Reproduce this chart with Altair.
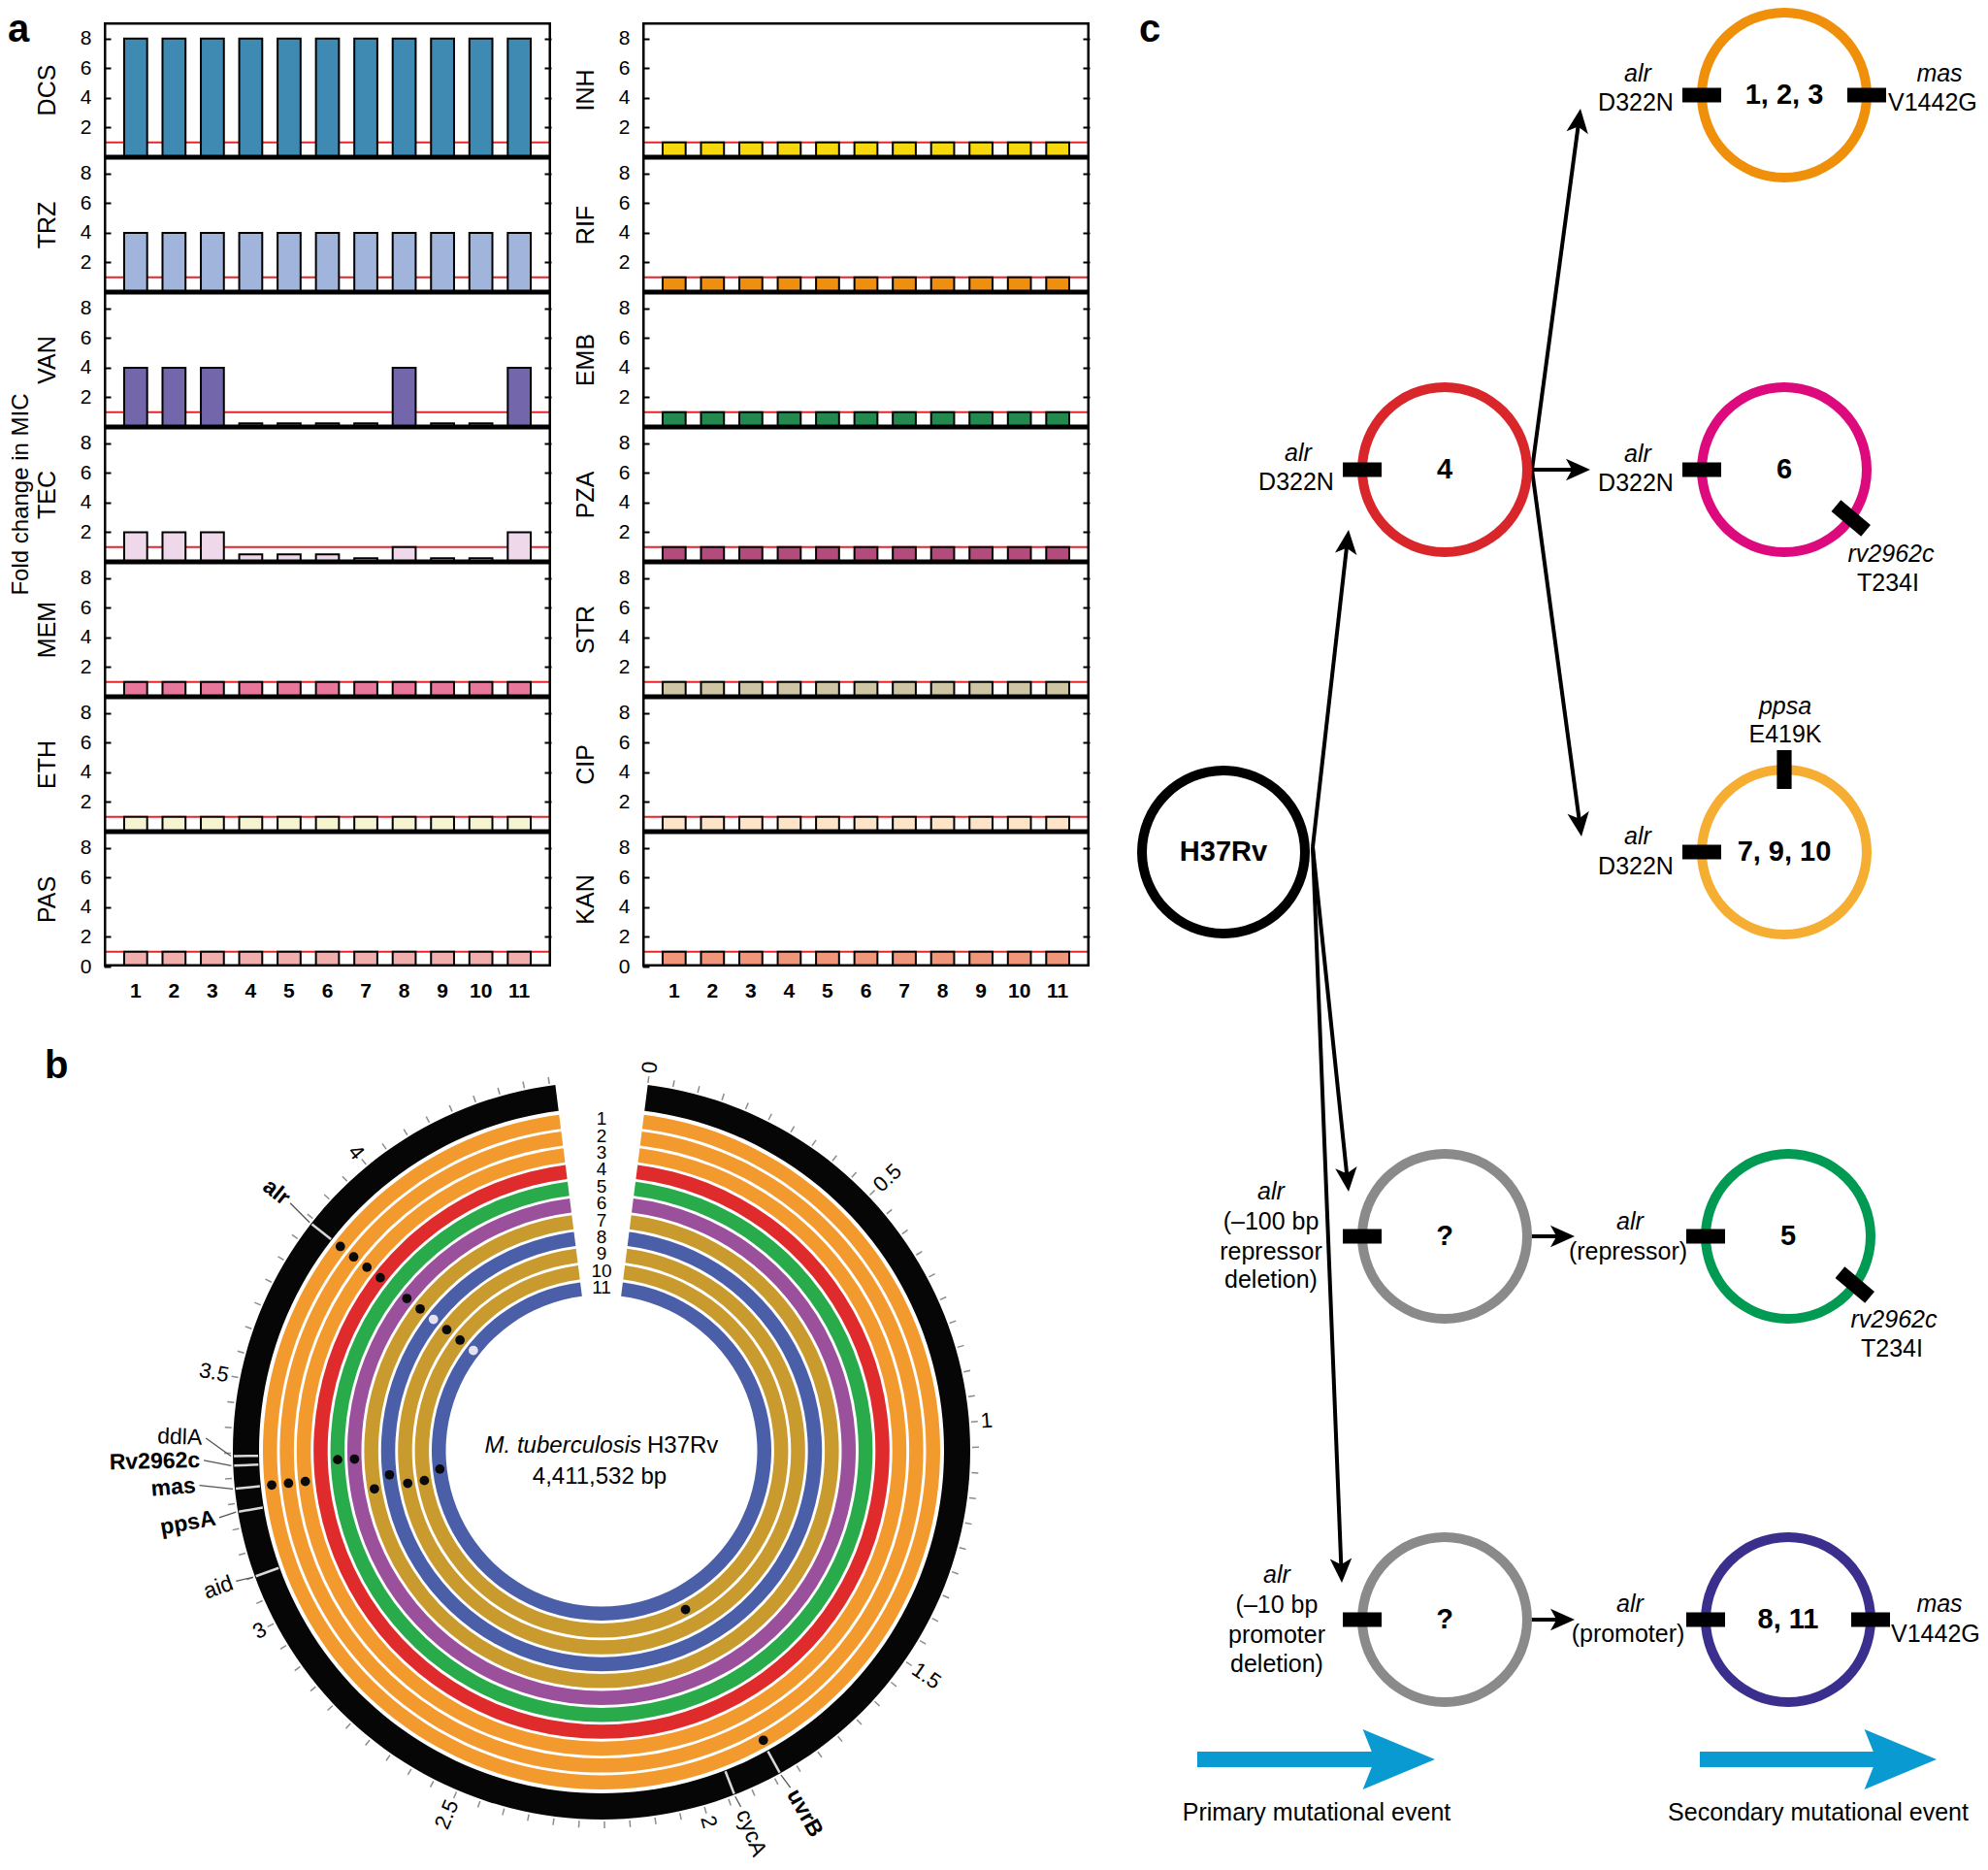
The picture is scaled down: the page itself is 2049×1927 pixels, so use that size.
import math
import altair as alt
import pandas as pd

FONT = "Liberation Sans"

# ====================== Panel a data ======================
strains = [1, 2, 3, 4, 5, 6, 7, 8, 9, 10, 11]
drugs_left = ["DCS", "TRZ", "VAN", "TEC", "MEM", "ETH", "PAS"]
drugs_right = ["INH", "RIF", "EMB", "PZA", "STR", "CIP", "KAN"]
fold_change = {
    "DCS": [8, 8, 8, 8, 8, 8, 8, 8, 8, 8, 8],
    "TRZ": [4, 4, 4, 4, 4, 4, 4, 4, 4, 4, 4],
    "VAN": [4, 4, 4, 0.25, 0.25, 0.25, 0.25, 4, 0.25, 0.25, 4],
    "TEC": [2, 2, 2, 0.5, 0.5, 0.5, 0.25, 1, 0.25, 0.25, 2],
    "MEM": [1, 1, 1, 1, 1, 1, 1, 1, 1, 1, 1],
    "ETH": [1, 1, 1, 1, 1, 1, 1, 1, 1, 1, 1],
    "PAS": [1, 1, 1, 1, 1, 1, 1, 1, 1, 1, 1],
    "INH": [1, 1, 1, 1, 1, 1, 1, 1, 1, 1, 1],
    "RIF": [1, 1, 1, 1, 1, 1, 1, 1, 1, 1, 1],
    "EMB": [1, 1, 1, 1, 1, 1, 1, 1, 1, 1, 1],
    "PZA": [1, 1, 1, 1, 1, 1, 1, 1, 1, 1, 1],
    "STR": [1, 1, 1, 1, 1, 1, 1, 1, 1, 1, 1],
    "CIP": [1, 1, 1, 1, 1, 1, 1, 1, 1, 1, 1],
    "KAN": [1, 1, 1, 1, 1, 1, 1, 1, 1, 1, 1],
}
drug_colors = {
    "DCS": "#3f8ab2", "TRZ": "#a1b5dc", "VAN": "#7466aa", "TEC": "#efd8ea",
    "MEM": "#e8789b", "ETH": "#f6f3cf", "PAS": "#f0aeac",
    "INH": "#f6d80f", "RIF": "#ee8f10", "EMB": "#24894e", "PZA": "#b34c7c",
    "STR": "#cdc5a4", "CIP": "#fde4c6", "KAN": "#f0977b",
}
reference_line = [1]
y_tick_values = [2, 4, 6, 8]
y_tick_values_bottom = [0, 2, 4, 6, 8]
panel_a_letter = ["a"]
panel_a_ytitle = ["Fold change in MIC"]

ROW_W, ROW_H = 461, 139
N_ROWS = 7
Y_MAX = 9.1
FRAME_W = 2.5


def row_chart(drug, bottom):
    df = pd.DataFrame({"strain": strains, "fold": fold_change[drug]})
    ysc = alt.Scale(domain=[0, Y_MAX], nice=False, zero=True)
    xsc = alt.Scale(paddingInner=0.4, paddingOuter=0.53)
    if bottom:
        xax = alt.Axis(labelFontSize=21, labelFontWeight="bold", labelPadding=14,
                       ticks=False, domain=False, title=None, labelAngle=0,
                       labelColor="black")
    else:
        xax = None
    left_axis = alt.Axis(orient="left",
                         values=y_tick_values_bottom if bottom else y_tick_values,
                         tickSize=7, offset=-7, tickWidth=2, tickColor="black",
                         domain=False, grid=False, labelFontSize=21, labelPadding=13,
                         labelColor="black", title=drug, titleFontSize=25,
                         titleFontWeight="normal", titlePadding=21, titleColor="black")
    right_axis = alt.Axis(orient="right", values=y_tick_values, tickSize=7, offset=-7,
                          tickWidth=2, tickColor="black", domain=False, grid=False,
                          labels=False, title=None)
    ref = alt.Chart(pd.DataFrame({"ref": reference_line})).mark_rule(
        color="#e3262c", strokeWidth=2).encode(
        y=alt.Y("ref:Q", scale=ysc, axis=right_axis))
    bars = alt.Chart(df).mark_bar(color=drug_colors[drug], stroke="black",
                                  strokeWidth=2, opacity=1, clip=True).encode(
        x=alt.X("strain:O", scale=xsc, axis=xax),
        y=alt.Y("fold:Q", scale=ysc, axis=left_axis))
    # plot frame: a clipped outline, so that adjacent rows share one border line
    frame = alt.Chart(pd.DataFrame({"f": [0]})).mark_rect(
        filled=False, color="black", strokeWidth=2 * FRAME_W, clip=True).encode(
        x=alt.value(0), x2=alt.value(ROW_W), y=alt.value(0), y2=alt.value(ROW_H))
    return alt.layer(ref, bars, frame).resolve_axis(y="independent").properties(
        width=ROW_W, height=ROW_H,
        view=alt.ViewBackground(strokeWidth=0, fill="white"))


# narrow strip on the left holding the panel letter and the shared y title
letter_a = alt.Chart(pd.DataFrame({"t": panel_a_letter})).mark_text(
    fontSize=40, fontWeight="bold", align="left", baseline="top", color="black").encode(
    text="t:N", x=alt.value(0), y=alt.value(-12))
ytitle_a = alt.Chart(pd.DataFrame({"t": panel_a_ytitle})).mark_text(
    fontSize=24, align="center", baseline="middle", color="black", angle=270).encode(
    text="t:N", x=alt.value(14), y=alt.value(N_ROWS * ROW_H / 2))
strip_a = alt.layer(letter_a, ytitle_a).properties(
    width=26, height=N_ROWS * ROW_H, view=alt.ViewBackground(strokeWidth=0))

col_left = alt.vconcat(*[row_chart(d, i == N_ROWS - 1) for i, d in enumerate(drugs_left)],
                       spacing=0)
col_right = alt.vconcat(*[row_chart(d, i == N_ROWS - 1) for i, d in enumerate(drugs_right)],
                        spacing=0)
panel_a = alt.hconcat(
    alt.hconcat(strip_a, col_left, spacing=2),
    col_right, spacing=22)

# ====================== Panel b data ======================
GENOME_MB = 4.411532
GAP_DEG = 7.2
SPAN = 360 - 2 * GAP_DEG

ring_ids = [1, 2, 3, 4, 5, 6, 7, 8, 9, 10, 11]
ring_colors = ["#f39a2e", "#f39a2e", "#f39a2e", "#e02b2d", "#2aab4b", "#9a509b",
               "#c99a2e", "#4a5fa8", "#c99a2e", "#c99a2e", "#4a5fa8"]
ring_labels = ["1", "2", "3", "4", "5", "6", "7", "8", "9", "10", "11"]

tick_positions = [round(i * 0.05, 2) for i in range(89)]
mb_label_pos = [0, 0.5, 1, 1.5, 2, 2.5, 3, 3.5, 4]
mb_label_text = ["0", "0.5", "1", "1.5", "2", "2.5", "3", "3.5", "4"]

genes = ["alr", "ddlA", "Rv2962c", "mas", "ppsA", "aid", "cycA", "uvrB"]
gene_pos = [3.840, 3.344, 3.325, 3.279, 3.233, 3.100, 1.936, 1.836]
gene_label_pos = [3.846, 3.378, 3.337, 3.292, 3.228, 3.104, 1.933, 1.832]
gene_label_r = [414, 412, 414, 420, 404, 404, 398, 402]
gene_bold = [True, False, True, True, True, False, False, True]

mut_ring = [1, 2, 3, 4, 6, 7, 8, 9, 10, 11,
            1, 2, 3, 8, 11,
            5, 6,
            7, 9, 10,
            1, 10]
mut_pos = [3.840, 3.840, 3.840, 3.840, 3.840, 3.840, 3.840, 3.840, 3.840, 3.840,
           3.279, 3.279, 3.279, 3.272, 3.272,
           3.330, 3.330,
           3.233, 3.233, 3.233,
           1.833, 1.850]
mut_kind = ["snp", "snp", "snp", "snp", "snp", "snp", "del", "snp", "snp", "del",
            "snp", "snp", "snp", "snp", "snp",
            "snp", "snp",
            "snp", "snp", "snp",
            "snp", "snp"]

# geometry of panel b (pixels)
CX_PAGE, CY_PAGE = 620, 1497
PB_LEFT, PB_TOP = 8, 1040
PB_W, PB_H = 1110, 1919 - 1040
R_BLACK_OUT, R_BLACK_IN = 380, 353
R1_OUT, PITCH, THICK = 349, 17.4, 14.5
R_TICK0, R_TICK1 = 382, 389
R_MBLAB = 392
R_LEAD0 = 382

xs_b = alt.Scale(domain=[PB_LEFT - CX_PAGE, PB_LEFT - CX_PAGE + PB_W], nice=False, zero=False)
ys_b = alt.Scale(domain=[PB_TOP - CY_PAGE, PB_TOP - CY_PAGE + PB_H], reverse=True,
                 nice=False, zero=False)
th_scale = alt.Scale(domain=[0, GENOME_MB],
                     range=[math.radians(GAP_DEG), math.radians(360 - GAP_DEG)])
r_scale = alt.Scale(type="linear", domain=[0, 500], range=[0, 500], zero=True, nice=False)

TH = f"({GAP_DEG} + datum.pos / {GENOME_MB} * {SPAN})"


def bx(field):
    return alt.X(field, scale=xs_b, axis=None)


def by(field):
    return alt.Y(field, scale=ys_b, axis=None)


black_ring = alt.Chart(pd.DataFrame({"start": [0], "end": [GENOME_MB]})).transform_calculate(
    cx="0", cy="0", ro=str(R_BLACK_OUT), ri=str(R_BLACK_IN)
).mark_arc(color="#060606").encode(
    x=bx("cx:Q"), y=by("cy:Q"),
    theta=alt.Theta("start:Q", scale=th_scale, stack=False), theta2=alt.Theta2("end:Q"),
    radius=alt.Radius("ro:Q", scale=r_scale), radius2=alt.Radius2("ri:Q"))

rings = alt.Chart(pd.DataFrame({"ring": ring_ids, "col": ring_colors})).transform_calculate(
    start="0", end=str(GENOME_MB), cx="0", cy="0",
    ro=f"{R1_OUT} - (datum.ring - 1) * {PITCH}",
).transform_calculate(
    ri=f"datum.ro - {THICK}"
).mark_arc().encode(
    x=bx("cx:Q"), y=by("cy:Q"),
    theta=alt.Theta("start:Q", scale=th_scale, stack=False), theta2=alt.Theta2("end:Q"),
    radius=alt.Radius("ro:Q", scale=r_scale), radius2=alt.Radius2("ri:Q"),
    color=alt.Color("col:N", scale=None))

ring_nums = alt.Chart(pd.DataFrame({"ring": ring_ids, "t": ring_labels})).transform_calculate(
    x="0", y=f"-({R1_OUT} - {THICK / 2} - (datum.ring - 1) * {PITCH})"
).mark_text(fontSize=19, color="black", align="center", baseline="middle").encode(
    x=bx("x:Q"), y=by("y:Q"), text="t:N")

ticks_b = alt.Chart(pd.DataFrame({"pos": tick_positions})).transform_calculate(
    th=f"{TH} * PI / 180"
).transform_calculate(
    x1=f"{R_TICK0} * sin(datum.th)", y1=f"-{R_TICK0} * cos(datum.th)",
    x2=f"{R_TICK1} * sin(datum.th)", y2=f"-{R_TICK1} * cos(datum.th)"
).mark_rule(color="#8c8c8c", strokeWidth=1.5).encode(
    x=bx("x1:Q"), y=by("y1:Q"), x2="x2:Q", y2="y2:Q")

mb_base = alt.Chart(pd.DataFrame({"pos": mb_label_pos, "t": mb_label_text})).transform_calculate(
    thd=TH
).transform_calculate(
    x=f"{R_MBLAB} * sin(datum.thd * PI / 180)",
    y=f"-{R_MBLAB} * cos(datum.thd * PI / 180)",
    rot="(datum.thd < 180 ? datum.thd + 270 : datum.thd + 90) % 360")
mb_right = mb_base.transform_filter("datum.thd < 180").mark_text(
    fontSize=22, align="left", baseline="middle", color="black").encode(
    x=bx("x:Q"), y=by("y:Q"), text="t:N", angle=alt.Angle("rot:Q", scale=None))
mb_left = mb_base.transform_filter("datum.thd >= 180").mark_text(
    fontSize=22, align="right", baseline="middle", color="black").encode(
    x=bx("x:Q"), y=by("y:Q"), text="t:N", angle=alt.Angle("rot:Q", scale=None))

gene_df = pd.DataFrame({"gene": genes, "pos": gene_pos, "lpos": gene_label_pos,
                        "lr": gene_label_r, "bold": gene_bold})
gene_marks = alt.Chart(gene_df).transform_calculate(
    th=f"{TH} * PI / 180"
).transform_calculate(
    x1=f"{R_BLACK_IN + 1} * sin(datum.th)", y1=f"-{R_BLACK_IN + 1} * cos(datum.th)",
    x2=f"{R_BLACK_OUT - 1} * sin(datum.th)", y2=f"-{R_BLACK_OUT - 1} * cos(datum.th)"
).mark_rule(color="#d9d9d9", strokeWidth=2.5).encode(
    x=bx("x1:Q"), y=by("y1:Q"), x2="x2:Q", y2="y2:Q")

gene_leaders = alt.Chart(gene_df).transform_calculate(
    th=f"{TH} * PI / 180",
    lth=f"({GAP_DEG} + datum.lpos / {GENOME_MB} * {SPAN}) * PI / 180"
).transform_calculate(
    x1=f"{R_LEAD0} * sin(datum.th)", y1=f"-{R_LEAD0} * cos(datum.th)",
    x2="(datum.lr - 4) * sin(datum.lth)", y2="-(datum.lr - 4) * cos(datum.lth)"
).mark_rule(color="#555555", strokeWidth=1.3).encode(
    x=bx("x1:Q"), y=by("y1:Q"), x2="x2:Q", y2="y2:Q")

gene_lab_base = alt.Chart(gene_df).transform_calculate(
    thd=f"{GAP_DEG} + datum.lpos / {GENOME_MB} * {SPAN}"
).transform_calculate(
    x="datum.lr * sin(datum.thd * PI / 180)",
    y="-datum.lr * cos(datum.thd * PI / 180)",
    rot="(datum.thd < 180 ? datum.thd + 270 : datum.thd + 90) % 360")


def gene_layer(side_expr, bold, align):
    return gene_lab_base.transform_filter(side_expr).transform_filter(
        "datum.bold" if bold else "!datum.bold"
    ).mark_text(fontSize=23, align=align, baseline="middle", color="black",
                fontWeight="bold" if bold else "normal").encode(
        x=bx("x:Q"), y=by("y:Q"), text="gene:N", angle=alt.Angle("rot:Q", scale=None))


gene_labels = [
    gene_layer("datum.thd < 180", True, "left"),
    gene_layer("datum.thd < 180", False, "left"),
    gene_layer("datum.thd >= 180", True, "right"),
    gene_layer("datum.thd >= 180", False, "right"),
]

dots = alt.Chart(pd.DataFrame({"ring": mut_ring, "pos": mut_pos, "kind": mut_kind})).transform_calculate(
    th=f"{TH} * PI / 180",
    r=f"{R1_OUT} - {THICK / 2} - (datum.ring - 1) * {PITCH}",
    dcol="datum.kind == 'del' ? '#e6e3f0' : '#0a0a0a'"
).transform_calculate(
    x="datum.r * sin(datum.th)", y="-datum.r * cos(datum.th)"
).mark_point(filled=True, size=95, opacity=1, strokeWidth=0).encode(
    x=bx("x:Q"), y=by("y:Q"), color=alt.Color("dcol:N", scale=None))

center_title = ["M. tuberculosis"]
center_strain = ["H37Rv"]
center_size = ["4,411,532 bp"]
ct1 = alt.Chart(pd.DataFrame({"t": center_title, "x": [41], "y": [-5]})).mark_text(
    fontSize=24, fontStyle="italic", align="right", baseline="middle", color="black").encode(
    x=bx("x:Q"), y=by("y:Q"), text="t:N")
ct2 = alt.Chart(pd.DataFrame({"t": center_strain, "x": [47], "y": [-5]})).mark_text(
    fontSize=24, align="left", baseline="middle", color="black").encode(
    x=bx("x:Q"), y=by("y:Q"), text="t:N")
ct3 = alt.Chart(pd.DataFrame({"t": center_size, "x": [-2], "y": [27]})).mark_text(
    fontSize=24, align="center", baseline="middle", color="black").encode(
    x=bx("x:Q"), y=by("y:Q"), text="t:N")
letter_b = alt.Chart(pd.DataFrame({"t": ["b"], "x": [46 - CX_PAGE], "y": [1113 - CY_PAGE]})).mark_text(
    fontSize=40, fontWeight="bold", align="left", baseline="alphabetic", color="black").encode(
    x=bx("x:Q"), y=by("y:Q"), text="t:N")

panel_b = alt.layer(
    black_ring, rings, gene_marks, ticks_b, gene_leaders, mb_right, mb_left,
    *gene_labels, dots, ring_nums, ct1, ct2, ct3, letter_b
).properties(width=PB_W, height=PB_H, view=alt.ViewBackground(strokeWidth=0))

# ====================== Panel c data ======================
PC_LEFT, PC_TOP = 1148, 23
PC_W, PC_H = 2040 - PC_LEFT, 1919 - 23

circle_labels = ["H37Rv", "4", "1, 2, 3", "6", "7, 9, 10", "?", "5", "?", "8, 11"]
circle_x = [1265, 1493, 1843, 1843, 1843, 1493, 1847, 1493, 1847]
circle_y = [878, 484, 98, 484, 878, 1274, 1274, 1669, 1669]
circle_colors = ["#000000", "#d8262a", "#f0900a", "#dc0a7c", "#f5ae32",
                 "#8a8a8a", "#009a52", "#8a8a8a", "#3b2f8e"]
circle_outer = [89, 90, 90, 90, 90, 90, 90, 90, 90]

marker_host = [1, 2, 2, 3, 3, 4, 4, 5, 6, 6, 7, 8, 8]
marker_dir = [180, 180, 0, 180, 36, 180, 270, 180, 180, 36, 180, 180, 0]
marker_rot = [0, 0, 0, 0, 40, 0, 90, 0, 0, 40, 0, 0, 0]

arrow_x1 = [1357, 1357, 1357, 1583, 1583, 1583, 1582, 1582]
arrow_y1 = [873, 873, 873, 484, 484, 484, 1274, 1669]
arrow_x2 = [1394, 1394, 1387, 1633, 1643, 1634, 1627, 1627]
arrow_y2 = [546, 1228, 1631, 112, 484, 862, 1274, 1669]

blue_x1 = [1238, 1756]
blue_x2 = [1483, 2000]
blue_y = [1813, 1813]

italic_text = ["alr", "alr", "alr", "alr", "mas", "rv2962c", "ppsa", "alr", "alr",
               "rv2962c", "alr", "alr", "mas"]
italic_x = [1342, 1692, 1692, 1692, 2003, 1953, 1844, 1314, 1684, 1956, 1320, 1684, 2003]
italic_y = [467, 76, 468, 862, 76, 571, 728, 1228, 1259, 1360, 1623, 1653, 1653]

plain_text = ["D322N", "D322N", "D322N", "E419K", "D322N", "T234I",
              "(\u2013100 bp", "repressor", "deletion)", "(repressor)", "T234I",
              "(\u201310 bp", "promoter", "deletion)", "(promoter)",
              "Primary mutational event", "Secondary mutational event"]
plain_x = [1340, 1690, 1690, 1844, 1690, 1950, 1314, 1314, 1314, 1682, 1954,
           1320, 1320, 1320, 1682, 1361, 1878]
plain_y = [497, 106, 498, 757, 893, 601, 1259, 1290, 1319, 1290, 1390,
           1654, 1685, 1715, 1684, 1868, 1868]

left_text = ["V1442G", "V1442G"]
left_x = [1950, 1953]
left_y = [106, 1684]

RING_W = 10
MARKER_R = 85
BAR_PATH = "M-1,-0.38L1,-0.38L1,0.38L-1,0.38Z"
HEAD_PATH = "M0,0L0.9,2L0,1.5L-0.9,2Z"
BLUE_HEAD_PATH = "M0,0L-2.4,-1L-2,0L-2.4,1Z"
BLUE = "#0a9ad2"

xs_c = alt.Scale(domain=[PC_LEFT, PC_LEFT + PC_W], nice=False, zero=False)
ys_c = alt.Scale(domain=[PC_TOP, PC_TOP + PC_H], reverse=True, nice=False, zero=False)
rc_scale = alt.Scale(type="linear", domain=[0, 200], range=[0, 200], zero=True, nice=False)


def cx_(field):
    return alt.X(field, scale=xs_c, axis=None)


def cy_(field):
    return alt.Y(field, scale=ys_c, axis=None)


circ_df = pd.DataFrame({"t": circle_labels, "x": circle_x, "y": circle_y,
                        "col": circle_colors, "ro": circle_outer})
circles = alt.Chart(circ_df).transform_calculate(
    ri=f"datum.ro - {RING_W}"
).mark_arc(theta=0, theta2=2 * math.pi).encode(
    x=cx_("x:Q"), y=cy_("y:Q"), color=alt.Color("col:N", scale=None),
    radius=alt.Radius("ro:Q", scale=rc_scale), radius2=alt.Radius2("ri:Q"))
circle_text = alt.Chart(circ_df).mark_text(
    fontSize=29, fontWeight="bold", color="black", align="center", baseline="middle").encode(
    x=cx_("x:Q"), y=cy_("y:Q"), text="t:N")

mk_df = pd.DataFrame({
    "x": [circle_x[h] + MARKER_R * math.cos(math.radians(d)) for h, d in zip(marker_host, marker_dir)],
    "y": [circle_y[h] + MARKER_R * math.sin(math.radians(d)) for h, d in zip(marker_host, marker_dir)],
    "rot": marker_rot})
markers = alt.Chart(mk_df).mark_point(
    shape=BAR_PATH, filled=True, size=1600, color="black", opacity=1, strokeWidth=0).encode(
    x=cx_("x:Q"), y=cy_("y:Q"), angle=alt.Angle("rot:Q", scale=None))

arr_df = pd.DataFrame({"x1": arrow_x1, "y1": arrow_y1, "x2": arrow_x2, "y2": arrow_y2})
arr_base = alt.Chart(arr_df).transform_calculate(
    dx="datum.x2 - datum.x1", dy="datum.y2 - datum.y1"
).transform_calculate(
    len="sqrt(datum.dx * datum.dx + datum.dy * datum.dy)",
    rot="(atan2(datum.dx, -datum.dy) * 180 / PI + 360) % 360"
).transform_calculate(
    ex="datum.x2 - datum.dx / datum.len * 14", ey="datum.y2 - datum.dy / datum.len * 14")
arrow_lines = arr_base.mark_rule(color="black", strokeWidth=4).encode(
    x=cx_("x1:Q"), y=cy_("y1:Q"), x2="ex:Q", y2="ey:Q")
arrow_heads = arr_base.mark_point(
    shape=HEAD_PATH, filled=True, size=625, color="black", opacity=1, strokeWidth=0).encode(
    x=cx_("x2:Q"), y=cy_("y2:Q"), angle=alt.Angle("rot:Q", scale=None))

blue_df = pd.DataFrame({"x1": blue_x1, "x2": blue_x2, "y": blue_y})
blue_shaft = alt.Chart(blue_df).transform_calculate(xe="datum.x2 - 60").mark_rule(
    color=BLUE, strokeWidth=16).encode(x=cx_("x1:Q"), x2="xe:Q", y=cy_("y:Q"))
blue_head = alt.Chart(blue_df).mark_point(
    shape=BLUE_HEAD_PATH, filled=True, size=62 ** 2, color=BLUE, opacity=1, strokeWidth=0).encode(
    x=cx_("x2:Q"), y=cy_("y:Q"))

italic_layer = alt.Chart(pd.DataFrame({"t": italic_text, "x": italic_x, "y": italic_y})).mark_text(
    fontSize=25, fontStyle="italic", color="black", align="center", baseline="middle").encode(
    x=cx_("x:Q"), y=cy_("y:Q"), text="t:N")
plain_layer = alt.Chart(pd.DataFrame({"t": plain_text, "x": plain_x, "y": plain_y})).mark_text(
    fontSize=25, color="black", align="center", baseline="middle").encode(
    x=cx_("x:Q"), y=cy_("y:Q"), text="t:N")
left_layer = alt.Chart(pd.DataFrame({"t": left_text, "x": left_x, "y": left_y})).mark_text(
    fontSize=25, color="black", align="left", baseline="middle").encode(
    x=cx_("x:Q"), y=cy_("y:Q"), text="t:N")
letter_c = alt.Chart(pd.DataFrame({"t": ["c"], "x": [1178], "y": [11]})).mark_text(
    fontSize=40, fontWeight="bold", align="left", baseline="top", color="black").encode(
    x=cx_("x:Q"), y=cy_("y:Q"), text="t:N")

panel_c = alt.layer(
    arrow_lines, arrow_heads, circles, markers, circle_text,
    blue_shaft, blue_head, italic_layer, plain_layer, left_layer, letter_c
).properties(width=PC_W, height=PC_H, view=alt.ViewBackground(strokeWidth=0))

# ====================== Assemble ======================
left_col = alt.vconcat(panel_a, panel_b, spacing=7)
chart = alt.hconcat(left_col, panel_c, spacing=20).properties(padding=0).configure(
    font=FONT).configure_axis(grid=False).configure_view(strokeWidth=0)

chart.save("out.html", embed_options={"renderer": "svg", "actions": False})
